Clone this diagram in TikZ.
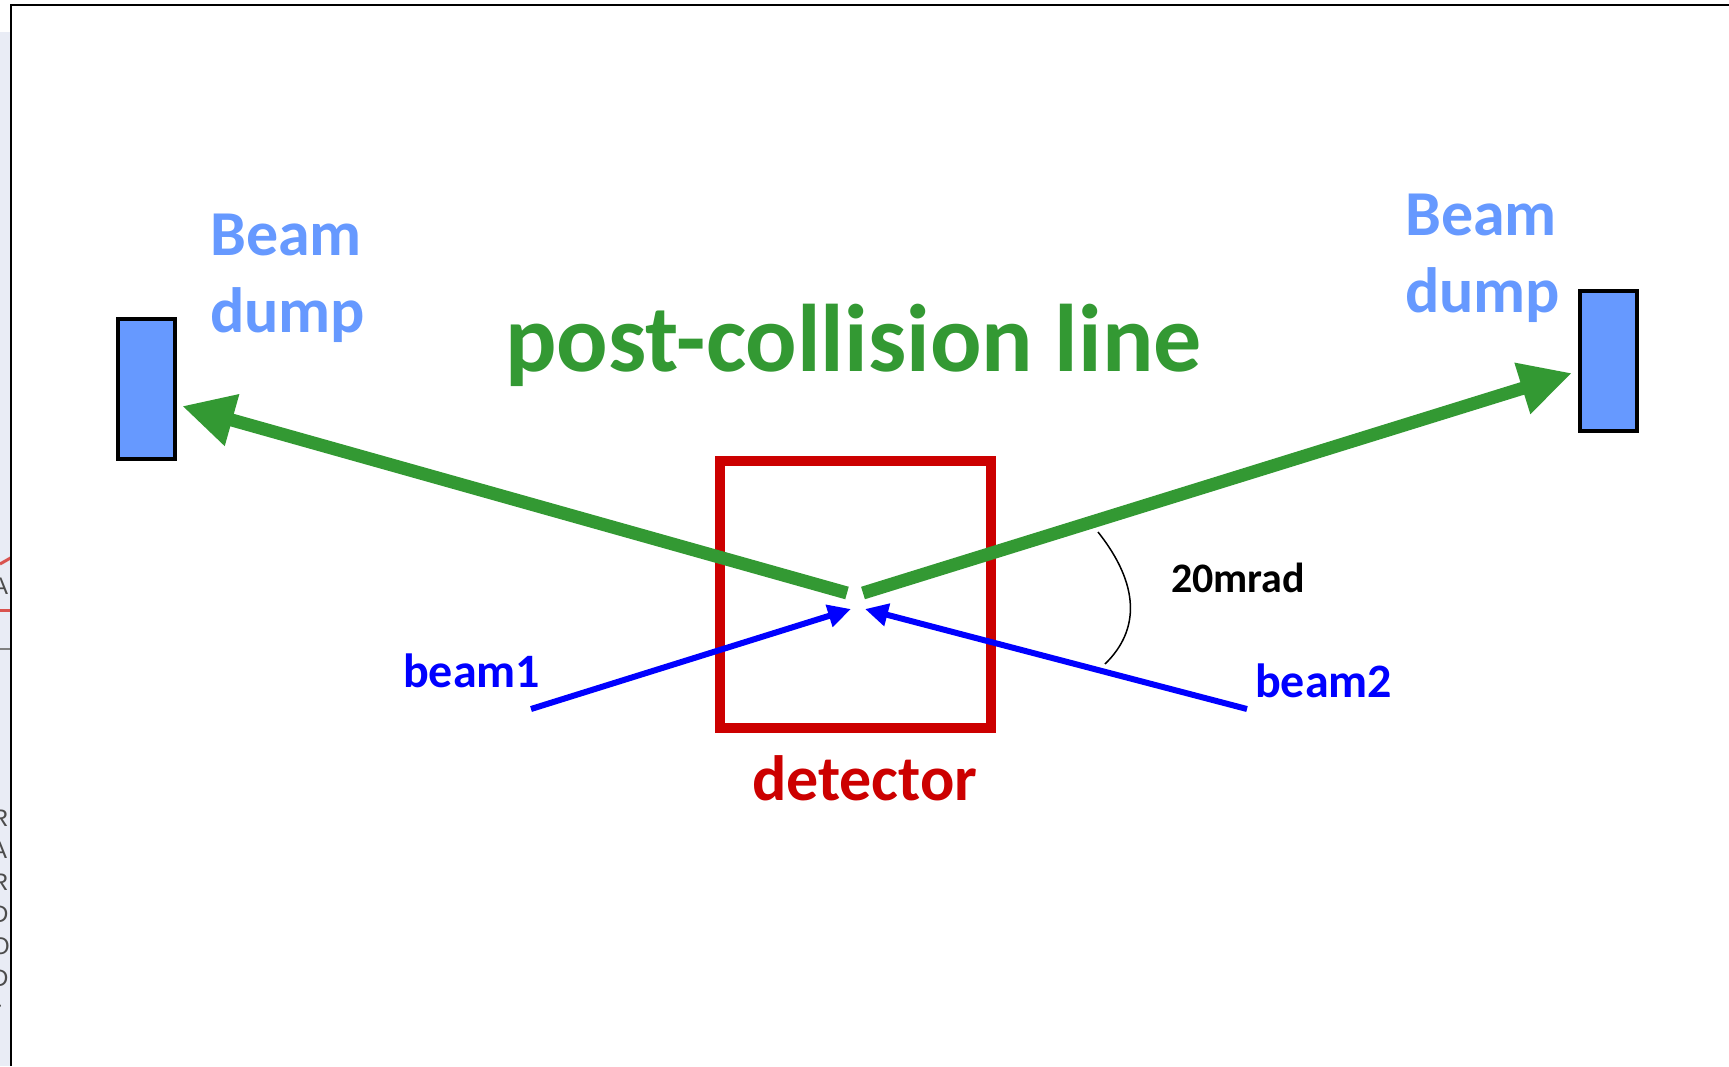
\documentclass[tikz,border=0pt]{standalone}
\usepackage{fontspec}
\setmainfont{Carlito}
\newfontfamily\stripfont{Liberation Sans}
\usetikzlibrary{arrows.meta}
\definecolor{pcgreen}{HTML}{339933}
\definecolor{dumpblue}{HTML}{6699FF}
\definecolor{detred}{HTML}{CC0000}
\definecolor{beamblue}{HTML}{0000FF}
\definecolor{stripbg}{HTML}{E9ECF5}
\definecolor{stripred}{HTML}{D9534F}
\begin{document}
\begin{tikzpicture}[x=1pt,y=-1pt,
  lbl/.style={font=\bfseries\fontsize{#1}{#1}\selectfont, inner sep=0pt, anchor=base west},
  dumpbox/.style={draw=black, line width=4pt, fill=dumpblue, minimum width=57pt, minimum height=140pt, inner sep=0pt},
  postline/.style={draw=pcgreen, line width=13pt, -{Triangle[length=52pt,width=50pt]}},
  beamline/.style={draw=beamblue, line width=6pt, -{Triangle[length=23pt,width=22pt]}},
  striptext/.style={font=\stripfont\fontsize{24}{24}\selectfont, text=black!70, inner sep=0pt, anchor=base west}
]
\useasboundingbox (0,0) rectangle (1729,1066);
\fill[white] (0,0) rectangle (1729,1066);
% left strip of another slide
\begin{scope}
  \clip (0,0) rectangle (10.5,1066);
  \fill[stripbg] (0,32) rectangle (10.5,1066);
  \draw[stripred, line width=3pt] (0,564) -- (10.5,558);
  \draw[stripred, line width=3pt] (0,610) -- (10.5,610);
  \node[striptext] (sA) at (-8,594) {A};
  \draw[black!50, line width=1.5pt] (0,649) -- (10.5,649);
  \node[striptext] (s1) at (-9,826) {R};
  \node[striptext] (s2) at (-9,858) {A};
  \node[striptext] (s3) at (-9,890) {R};
  \node[striptext] (s4) at (-9,922) {D};
  \node[striptext] (s5) at (-9,954) {O};
  \node[striptext] (s6) at (-9,986) {D};
  \node[striptext] (s7) at (-6,1012) {›};
\end{scope}
% frame
\draw[black, line width=1.5pt] (11,1066) -- (11,5) -- (1729,5);

% beam dumps
\node[dumpbox] (dumpL) at (146.5,389) {};
\node[dumpbox] (dumpR) at (1608.5,361) {};
\node[lbl=64, text=dumpblue] (beamL) at (210,255) {Beam};
\node[lbl=64, text=dumpblue] (dumpLt) at (210,332) {dump};
\node[lbl=64, text=dumpblue] (beamR) at (1405,235) {Beam};
\node[lbl=64, text=dumpblue] (dumpRt) at (1405,312) {dump};

% detector
\node[draw=detred, line width=10pt, minimum width=271pt, minimum height=267pt, inner sep=0pt] (det) at (855,594) {};
\node[lbl=64, text=detred] (detlbl) at (752,800) {detector};

% title
\node[lbl=96, text=pcgreen] (title) at (505,371) {post-collision line};

% post-collision lines
\coordinate (ipL) at (847,593);
\coordinate (ipR) at (863,593);
\coordinate (tipL) at (182,406);
\coordinate (tipR) at (1572,373);
\draw[postline] (ipL) -- (tipL);
\draw[postline] (ipR) -- (tipR);

% incoming beams
\coordinate (b1s) at (531,709);
\coordinate (b1t) at (851,609);
\coordinate (b2s) at (1247,709);
\coordinate (b2t) at (865,609);
\draw[beamline] (b1s) -- (b1t);
\draw[beamline] (b2s) -- (b2t);
\node[lbl=48, text=beamblue] (beam1) at (403,687) {beam1};
\node[lbl=48, text=beamblue] (beam2) at (1255,697) {beam2};

% angle
\coordinate (arcA) at (1098,532);
\coordinate (arcB) at (1105,664);
\draw[black, line width=1.5pt] (arcA) .. controls (1140,585) and (1140,630) .. (arcB);
\node[lbl=42, text=black] (mrad) at (1171,592) {20mrad};
\end{tikzpicture}
\end{document}
